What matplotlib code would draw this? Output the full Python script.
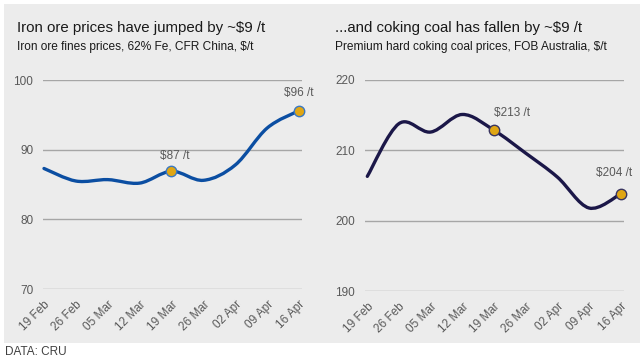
import matplotlib.pyplot as plt
import numpy as np
from matplotlib.path import Path
from matplotlib.patches import PathPatch, Rectangle

plt.rcParams['font.family'] = ['Liberation Sans', 'DejaVu Sans']

# 数据
weeks = ['19 Feb', '26 Feb', '05 Mar', '12 Mar', '19 Mar', '26 Mar', '02 Apr', '09 Apr', '16 Apr']
iron_ore = [87.3, 85.5, 85.7, 85.2, 86.9, 85.6, 87.8, 93.1, 95.6]
coking_coal = [206.3, 213.8, 212.6, 215.1, 212.85, 209.6, 206.2, 201.8, 203.8]
iron_labels = {4: '$87 /t', 8: '$96 /t'}
coal_labels = {4: '$213 /t', 8: '$204 /t'}

GREY_TXT = '#595959'


def smooth_path(x, y):
    # 类似 Excel 的平滑线 (Catmull-Rom -> Bezier)
    p = np.column_stack([x, y]).astype(float)
    pts = np.vstack([p[0], p, p[-1]])
    verts = [p[0]]
    codes = [Path.MOVETO]
    for i in range(1, len(pts) - 2):
        c1 = pts[i] + (pts[i + 1] - pts[i - 1]) / 6
        c2 = pts[i + 1] - (pts[i + 2] - pts[i]) / 6
        verts += [c1, c2, pts[i + 1]]
        codes += [Path.CURVE4] * 3
    return Path(verts, codes)


def panel(ax, values, ylim, yticks, color, edge, labels, offsets, xlim):
    x = np.arange(len(values))
    ax.add_patch(PathPatch(smooth_path(x, values), facecolor='none', edgecolor=color,
                           lw=2.4, capstyle='round', zorder=3, clip_on=False))
    for i, txt in labels.items():
        ax.plot(x[i], values[i], 'o', ms=7.5, mfc='#e0a614', mec=edge, mew=1.0,
                zorder=4, clip_on=False)
        ax.annotate(txt, (x[i], values[i]), xytext=offsets[i], textcoords='offset points',
                    ha='center', va='center', fontsize=8.5, color=GREY_TXT)
    ax.set_xlim(*xlim)
    ax.set_ylim(*ylim)
    ax.set_yticks(yticks)
    ax.set_xticks(x)
    ax.set_xticklabels(weeks, rotation=45, ha='right', rotation_mode='anchor')
    ax.set_facecolor('none')
    for s in ax.spines.values():
        s.set_visible(False)
    ax.grid(axis='y', color='#a6a6a6', lw=1.0)
    ax.set_axisbelow(True)
    ax.tick_params(axis='y', length=0, pad=7, labelsize=8.5, labelcolor=GREY_TXT)
    ax.tick_params(axis='x', length=0, pad=7, labelsize=8.5, labelcolor=GREY_TXT)


fig = plt.figure(figsize=(6.44, 3.6), dpi=100)
fig.patches.append(Rectangle((4 / 644, 17 / 360), 636 / 644, 339 / 360,
                             transform=fig.transFigure, facecolor='#ececec',
                             edgecolor='none', zorder=-5))

ax1 = fig.add_axes([43 / 644, 71 / 360, 259 / 644, 209 / 360])
panel(ax1, iron_ore, (70, 100), [70, 80, 90, 100], '#0b4ea2', '#3a78c2', iron_labels,
      {4: (2, 11), 8: (0, 12.5)}, (-0.031, 8.094))

ax2 = fig.add_axes([365 / 644, 69 / 360, 259 / 644, 211 / 360])
panel(ax2, coking_coal, (190, 220), [190, 200, 210, 220], '#1b1748', '#3a3560', coal_labels,
      {4: (13, 12.5), 8: (-5, 15)}, (-0.073, 8.104))

fig.text(17 / 644, 1 - 32 / 360, 'Iron ore prices have jumped by ~$9 /t', fontsize=10.8,
         color='#1a1a1a', va='baseline')
fig.text(17 / 644, 1 - 50 / 360, 'Iron ore fines prices, 62% Fe, CFR China, $/t', fontsize=8.6,
         color='#1a1a1a', va='baseline')
fig.text(335 / 644, 1 - 32 / 360, '...and coking coal has fallen by ~$9 /t', fontsize=10.8,
         color='#1a1a1a', va='baseline')
fig.text(335 / 644, 1 - 50 / 360, 'Premium hard coking coal prices, FOB Australia, $/t', fontsize=8.6,
         color='#1a1a1a', va='baseline')
fig.text(5 / 644, 1 - 355 / 360, 'DATA: CRU', fontsize=8.5, color='#404040', va='baseline')

plt.savefig('out.png', dpi=100)
